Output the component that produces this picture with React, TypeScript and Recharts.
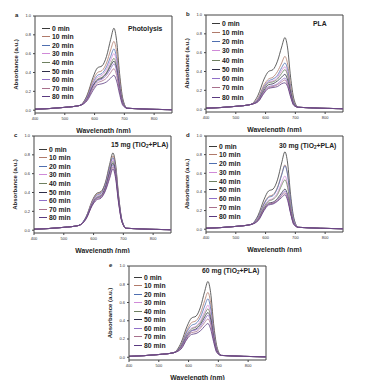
import { LineChart, Line, XAxis, YAxis, ReferenceLine, Label } from 'recharts'

// wavelength grid (nm) shared by every spectrum
const wavelengths = [400, 500, 550, 575, 595, 610, 625, 640, 654, 665, 674, 684, 695, 710, 860]
const times = ['0 min', '10 min', '20 min', '30 min', '40 min', '50 min', '60 min', '70 min', '80 min']
const xTicks = [400, 500, 600, 700, 800]
const yTicks = [0, 0.2, 0.4, 0.6, 0.8, 1.0]

const lineColors = [
  '#3a3a3a',
  '#b07a6a',
  '#4f6fb0',
  '#d08ad8',
  '#6e8060',
  '#2e2e48',
  '#9070c8',
  '#a8708c',
  '#5a3a80'
]

const photolysis = [
  [0.01, 0.03, 0.05, 0.16, 0.35, 0.45, 0.47, 0.57, 0.75, 0.87, 0.74, 0.39, 0.12, 0.02, 0.005],
  [0.01, 0.03, 0.05, 0.15, 0.32, 0.4, 0.42, 0.5, 0.64, 0.73, 0.62, 0.33, 0.1, 0.02, 0.005],
  [0.01, 0.03, 0.05, 0.14, 0.29, 0.37, 0.39, 0.46, 0.57, 0.65, 0.55, 0.29, 0.09, 0.02, 0.005],
  [0.01, 0.03, 0.05, 0.13, 0.28, 0.35, 0.37, 0.43, 0.53, 0.6, 0.51, 0.27, 0.08, 0.02, 0.005],
  [0.01, 0.03, 0.05, 0.12, 0.26, 0.33, 0.35, 0.4, 0.49, 0.55, 0.47, 0.25, 0.08, 0.02, 0.005],
  [0.01, 0.03, 0.05, 0.12, 0.26, 0.32, 0.34, 0.39, 0.47, 0.52, 0.44, 0.23, 0.07, 0.02, 0.005],
  [0.01, 0.03, 0.05, 0.12, 0.25, 0.31, 0.33, 0.37, 0.44, 0.49, 0.42, 0.22, 0.07, 0.02, 0.005],
  [0.01, 0.03, 0.05, 0.11, 0.23, 0.29, 0.31, 0.34, 0.4, 0.44, 0.37, 0.2, 0.06, 0.02, 0.005],
  [0.01, 0.03, 0.05, 0.1, 0.21, 0.27, 0.28, 0.3, 0.34, 0.37, 0.31, 0.17, 0.05, 0.02, 0.005]
]

const pla = [
  [0.01, 0.03, 0.05, 0.15, 0.32, 0.4, 0.42, 0.51, 0.66, 0.76, 0.65, 0.34, 0.11, 0.02, 0.005],
  [0.01, 0.03, 0.05, 0.12, 0.26, 0.32, 0.34, 0.4, 0.49, 0.56, 0.48, 0.25, 0.08, 0.02, 0.005],
  [0.01, 0.03, 0.05, 0.11, 0.24, 0.3, 0.32, 0.36, 0.44, 0.49, 0.42, 0.22, 0.07, 0.02, 0.005],
  [0.01, 0.03, 0.05, 0.11, 0.23, 0.29, 0.3, 0.34, 0.41, 0.45, 0.38, 0.2, 0.06, 0.02, 0.005],
  [0.01, 0.03, 0.05, 0.1, 0.22, 0.28, 0.29, 0.32, 0.38, 0.42, 0.36, 0.19, 0.06, 0.02, 0.005],
  [0.01, 0.03, 0.05, 0.09, 0.2, 0.26, 0.27, 0.3, 0.34, 0.37, 0.31, 0.17, 0.05, 0.02, 0.005],
  [0.01, 0.03, 0.05, 0.09, 0.19, 0.24, 0.25, 0.27, 0.31, 0.33, 0.28, 0.15, 0.05, 0.02, 0.005],
  [0.01, 0.03, 0.05, 0.08, 0.18, 0.23, 0.24, 0.26, 0.29, 0.31, 0.26, 0.14, 0.04, 0.02, 0.005],
  [0.01, 0.03, 0.05, 0.08, 0.17, 0.22, 0.23, 0.24, 0.27, 0.28, 0.24, 0.13, 0.04, 0.02, 0.005]
]

const tio2_15mg = [
  [0.01, 0.03, 0.05, 0.14, 0.31, 0.39, 0.41, 0.51, 0.7, 0.82, 0.7, 0.37, 0.11, 0.02, 0.005],
  [0.01, 0.03, 0.05, 0.14, 0.3, 0.38, 0.4, 0.5, 0.67, 0.79, 0.67, 0.36, 0.11, 0.02, 0.005],
  [0.01, 0.03, 0.05, 0.14, 0.29, 0.37, 0.39, 0.49, 0.66, 0.77, 0.65, 0.35, 0.11, 0.02, 0.005],
  [0.01, 0.03, 0.05, 0.13, 0.29, 0.36, 0.38, 0.47, 0.64, 0.75, 0.64, 0.34, 0.1, 0.02, 0.005],
  [0.01, 0.03, 0.05, 0.13, 0.28, 0.35, 0.37, 0.46, 0.62, 0.73, 0.62, 0.33, 0.1, 0.02, 0.005],
  [0.01, 0.03, 0.05, 0.13, 0.27, 0.34, 0.36, 0.45, 0.61, 0.71, 0.6, 0.32, 0.1, 0.02, 0.005],
  [0.01, 0.03, 0.05, 0.13, 0.27, 0.34, 0.36, 0.44, 0.59, 0.69, 0.59, 0.31, 0.1, 0.02, 0.005],
  [0.01, 0.03, 0.05, 0.12, 0.26, 0.33, 0.35, 0.43, 0.57, 0.67, 0.57, 0.3, 0.09, 0.02, 0.005],
  [0.01, 0.03, 0.05, 0.12, 0.26, 0.32, 0.34, 0.42, 0.55, 0.65, 0.55, 0.29, 0.09, 0.02, 0.005]
]

const tio2_30mg = [
  [0.01, 0.03, 0.05, 0.15, 0.32, 0.41, 0.43, 0.53, 0.71, 0.83, 0.71, 0.37, 0.12, 0.02, 0.005],
  [0.01, 0.03, 0.05, 0.13, 0.28, 0.35, 0.37, 0.45, 0.59, 0.69, 0.59, 0.31, 0.1, 0.02, 0.005],
  [0.01, 0.03, 0.05, 0.13, 0.27, 0.34, 0.36, 0.44, 0.58, 0.68, 0.58, 0.31, 0.1, 0.02, 0.005],
  [0.01, 0.03, 0.05, 0.12, 0.25, 0.31, 0.33, 0.39, 0.5, 0.57, 0.48, 0.26, 0.08, 0.02, 0.005],
  [0.01, 0.03, 0.05, 0.11, 0.24, 0.3, 0.32, 0.37, 0.47, 0.53, 0.45, 0.24, 0.07, 0.02, 0.005],
  [0.01, 0.03, 0.05, 0.1, 0.22, 0.28, 0.29, 0.33, 0.39, 0.43, 0.37, 0.19, 0.06, 0.02, 0.005],
  [0.01, 0.03, 0.05, 0.1, 0.21, 0.27, 0.28, 0.31, 0.37, 0.41, 0.35, 0.18, 0.06, 0.02, 0.005],
  [0.01, 0.03, 0.05, 0.1, 0.21, 0.27, 0.28, 0.31, 0.36, 0.39, 0.33, 0.18, 0.05, 0.02, 0.005],
  [0.01, 0.03, 0.05, 0.09, 0.2, 0.26, 0.27, 0.3, 0.34, 0.37, 0.31, 0.17, 0.05, 0.02, 0.005]
]

const tio2_60mg = [
  [0.01, 0.03, 0.05, 0.16, 0.34, 0.43, 0.45, 0.55, 0.72, 0.83, 0.71, 0.37, 0.12, 0.02, 0.005],
  [0.01, 0.03, 0.05, 0.14, 0.3, 0.38, 0.4, 0.48, 0.62, 0.71, 0.6, 0.32, 0.1, 0.02, 0.005],
  [0.01, 0.03, 0.05, 0.13, 0.28, 0.35, 0.37, 0.44, 0.56, 0.64, 0.54, 0.29, 0.09, 0.02, 0.005],
  [0.01, 0.03, 0.05, 0.12, 0.26, 0.32, 0.34, 0.4, 0.5, 0.57, 0.48, 0.26, 0.08, 0.02, 0.005],
  [0.01, 0.03, 0.05, 0.12, 0.25, 0.31, 0.33, 0.38, 0.47, 0.53, 0.45, 0.24, 0.07, 0.02, 0.005],
  [0.01, 0.03, 0.05, 0.11, 0.23, 0.29, 0.31, 0.36, 0.44, 0.49, 0.42, 0.22, 0.07, 0.02, 0.005],
  [0.01, 0.03, 0.05, 0.11, 0.23, 0.29, 0.3, 0.34, 0.41, 0.46, 0.39, 0.21, 0.06, 0.02, 0.005],
  [0.01, 0.03, 0.05, 0.1, 0.21, 0.27, 0.28, 0.32, 0.38, 0.42, 0.36, 0.19, 0.06, 0.02, 0.005],
  [0.01, 0.03, 0.05, 0.09, 0.2, 0.25, 0.26, 0.29, 0.34, 0.37, 0.31, 0.17, 0.05, 0.02, 0.005]
]

const FONT = '"Liberation Sans", Arial, sans-serif'
const AXIS = '#444'
const PLOT_W = 137
const Y_AXIS_W = 22
const TOP_PAD = 12
const X_AXIS_H = 20

interface PanelProps {
  letter: string
  title: React.ReactNode
  series: number[][]
  plotLeft: number
  plotTop: number
  plotH: number
  legendX: number
  legendY: number
  legendStep: number
  titleX: number
  titleY: number
}

function Panel({ letter, title, series, plotLeft, plotTop, plotH, legendX, legendY, legendStep, titleX, titleY }: PanelProps) {
  const rows = wavelengths.map((w, i) => {
    const row: Record<string, number> = { w }
    series.forEach((s, k) => {
      row['t' + k] = s[i]
    })
    return row
  })

  return (
    <>
      <div style={{ position: 'absolute', left: plotLeft - Y_AXIS_W, top: plotTop - TOP_PAD }}>
        <LineChart
          width={Y_AXIS_W + PLOT_W + 6}
          height={TOP_PAD + plotH + X_AXIS_H}
          data={rows}
          margin={{ top: TOP_PAD, right: 6, bottom: 0, left: 0 }}
        >
          <XAxis
            dataKey="w"
            type="number"
            domain={[400, 860]}
            ticks={xTicks}
            allowDataOverflow
            height={X_AXIS_H}
            tickSize={2}
            stroke={AXIS}
            tick={{ fontSize: 4, fill: '#333' }}
          >
            <Label
              value="Wavelength (nm)"
              position="insideBottom"
              offset={0}
              style={{ fontSize: 6.8, fontWeight: 'bold', fill: '#222' }}
            />
          </XAxis>
          <YAxis
            type="number"
            domain={[-0.03, 1]}
            ticks={yTicks}
            allowDataOverflow
            width={Y_AXIS_W}
            tickSize={2}
            stroke={AXIS}
            tick={{ fontSize: 4, fill: '#333' }}
            tickFormatter={(v) => Number(v).toFixed(1)}
          >
            <Label
              value="Absorbance (a.u.)"
              angle={-90}
              position="insideLeft"
              offset={3}
              style={{ fontSize: 6, fontWeight: 'bold', fill: '#222', textAnchor: 'middle' }}
            />
          </YAxis>
          <ReferenceLine y={1} stroke={AXIS} />
          <ReferenceLine x={860} stroke={AXIS} />
          {series.map((_, k) => (
            <Line
              key={k}
              type="monotone"
              dataKey={'t' + k}
              stroke={lineColors[k]}
              strokeWidth={0.8}
              dot={false}
              isAnimationActive={false}
            />
          ))}
        </LineChart>
      </div>
      <div style={{ position: 'absolute', left: plotLeft - 20, top: plotTop - 4, fontSize: 6, fontWeight: 'bold' }}>
        {letter}
      </div>
      <div
        style={{
          position: 'absolute',
          left: titleX,
          top: titleY - 4,
          fontSize: 6.8,
          fontWeight: 'bold',
          lineHeight: '8px',
          whiteSpace: 'nowrap'
        }}
      >
        {title}
      </div>
      {times.map((t, k) => (
        <div
          key={t}
          style={{
            position: 'absolute',
            left: legendX,
            top: legendY + k * legendStep - 4,
            height: 8,
            display: 'flex',
            alignItems: 'center',
            fontSize: 6.8,
            fontWeight: 'bold',
            whiteSpace: 'nowrap'
          }}
        >
          <span style={{ display: 'inline-block', width: 8, height: 1, background: lineColors[k], marginRight: 2 }} />
          {t}
        </div>
      ))}
    </>
  )
}

const tio2Title = (mg: number) => (
  <>
    {mg} mg (TiO<sub style={{ fontSize: 4.5, verticalAlign: '-1px' }}>2</sub>+PLA)
  </>
)

export default function App() {
  return (
    <div
      style={{
        position: 'absolute',
        left: 0,
        top: 0,
        width: 370,
        height: 386,
        background: '#fff',
        fontFamily: FONT,
        color: '#222',
        overflow: 'hidden'
      }}
    >
      <Panel letter="a" title="Photolysis" series={photolysis} plotLeft={35} plotTop={16} plotH={97}
        legendX={42} legendY={28} legendStep={8.6} titleX={128} titleY={29} />
      <Panel letter="b" title="PLA" series={pla} plotLeft={206} plotTop={15} plotH={97}
        legendX={212} legendY={23} legendStep={9.25} titleX={313} titleY={24} />
      <Panel letter="c" title={tio2Title(15)} series={tio2_15mg} plotLeft={34} plotTop={136} plotH={97}
        legendX={39} legendY={149} legendStep={8.6} titleX={111} titleY={145} />
      <Panel letter="d" title={tio2Title(30)} series={tio2_30mg} plotLeft={206} plotTop={136} plotH={96}
        legendX={209} legendY={146} legendStep={8.75} titleX={279} titleY={146} />
      <Panel letter="e" title={tio2Title(60)} series={tio2_60mg} plotLeft={129} plotTop={266} plotH={94}
        legendX={134} legendY={277} legendStep={8.5} titleX={202} titleY={271} />
    </div>
  )
}
